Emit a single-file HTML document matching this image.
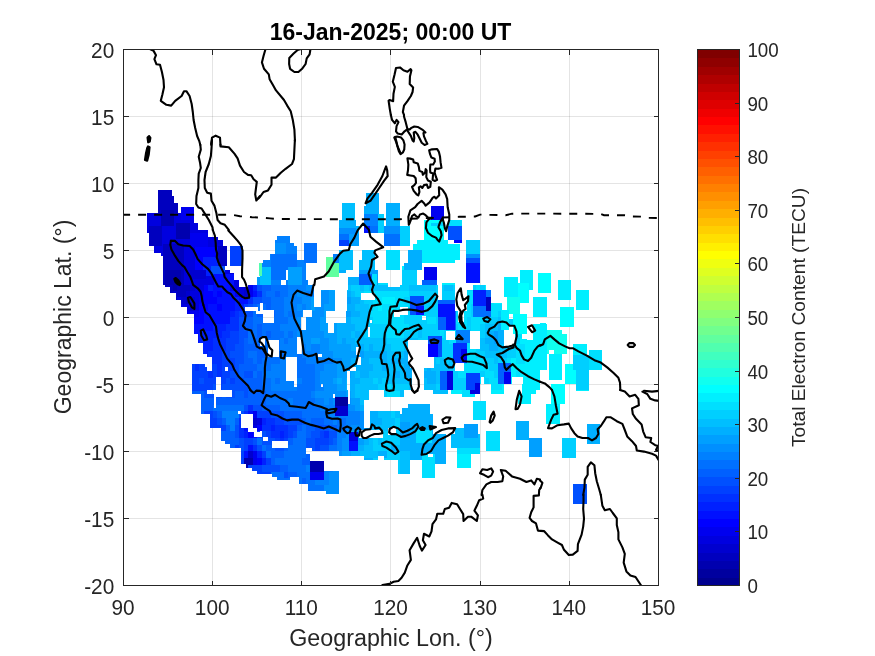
<!DOCTYPE html>
<html lang="en"><head><meta charset="utf-8"><title>16-Jan-2025; 00:00 UT</title>
<style>
html,body{margin:0;padding:0;background:#fff;}
body{width:875px;height:656px;overflow:hidden;}
svg{display:block;}
text{font-family:"Liberation Sans",Arial,Helvetica,sans-serif;fill:#262626;}
.tk{font-size:20.8px;}
.ctk{font-size:18.8px;}
.lab{font-size:23.3px;}
.clab{font-size:19.2px;}
.ttl{font-size:23px;font-weight:bold;fill:#000;}
.grid line{stroke:#262626;stroke-opacity:0.125;stroke-width:1;shape-rendering:crispEdges;}
.ax{stroke:#262626;stroke-width:1;fill:none;shape-rendering:crispEdges;}
.coast{fill:none;stroke:#000;stroke-width:2.1;stroke-linejoin:round;stroke-linecap:round;}
.eq{fill:none;stroke:#000;stroke-width:1.9;stroke-dasharray:8 8;stroke-dashoffset:1.4;}
</style></head><body>
<svg width="875" height="656" viewBox="0 0 875 656">
<rect x="0" y="0" width="875" height="656" fill="#fff"/>
<clipPath id="c"><rect x="123.5" y="49.5" width="535" height="536"/></clipPath>
<g class="grid">
<line x1="212.5" y1="49.5" x2="212.5" y2="585.5"/>
<line x1="301.5" y1="49.5" x2="301.5" y2="585.5"/>
<line x1="390.5" y1="49.5" x2="390.5" y2="585.5"/>
<line x1="480.5" y1="49.5" x2="480.5" y2="585.5"/>
<line x1="569.5" y1="49.5" x2="569.5" y2="585.5"/>
<line x1="123.5" y1="518.5" x2="658.5" y2="518.5"/>
<line x1="123.5" y1="451.5" x2="658.5" y2="451.5"/>
<line x1="123.5" y1="384.5" x2="658.5" y2="384.5"/>
<line x1="123.5" y1="317.5" x2="658.5" y2="317.5"/>
<line x1="123.5" y1="250.5" x2="658.5" y2="250.5"/>
<line x1="123.5" y1="183.5" x2="658.5" y2="183.5"/>
<line x1="123.5" y1="116.5" x2="658.5" y2="116.5"/>
</g>
<g shape-rendering="crispEdges">
<path fill="#00009f" d="M335 397h13v9h-13z"/>
<path fill="#0000af" d="M161 210h13v16h-13zM176 223h14v16h-14zM165 270h16v15h-16zM173 285h4v6h-4zM244 458h9v6h-9zM246 464h7v1h-7zM246 465h2v3h-2zM310 461h14v11h-14z"/>
<path fill="#0000bf" d="M158 190h14v6h-14zM158 196h16v7h-16zM158 203h20v7h-20zM174 210h4v3h-4zM158 210h3v3h-3zM149 226h13v20h-13zM218 246h9v20h-9zM163 244h21v26h-21zM181 270h3v15h-3zM163 270h2v15h-2zM165 285h8v2h-8zM177 285h13v6h-13zM170 287h3v6h-3zM177 291h9v6h-9zM176 297h1v3h-1zM186 297h4v7h-4zM486 297h5v14h-5z"/>
<path fill="#0000cf" d="M190 270h16v9h-16zM190 285h5v6h-5zM173 291h4v2h-4zM244 287h4v10h-4zM186 291h4v6h-4zM176 293h1v4h-1zM181 297h5v7h-5zM190 297h5v14h-5zM335 406h13v10h-13zM253 418h4v7h-4zM248 451h5v7h-5z"/>
<path fill="#0000df" d="M174 213h7v7h-7zM174 220h20v3h-20zM147 213h14v13h-14zM174 223h2v3h-2zM190 223h8v7h-8zM147 226h2v7h-2zM190 230h18v3h-18zM162 226h14v13h-14zM208 237h10v3h-10zM162 239h28v5h-28zM208 240h15v6h-15zM162 244h1v2h-1zM184 244h6v3h-6zM208 246h10v1h-10zM154 246h9v7h-9zM161 253h2v3h-2zM184 247h11v23h-11zM225 270h5v3h-5zM225 273h9v1h-9zM184 270h6v9h-6zM206 276h8v3h-8zM184 279h30v6h-30zM234 280h5v5h-5zM235 285h4v2h-4zM195 285h9v6h-9zM235 287h9v4h-9zM239 291h5v6h-5zM190 291h9v6h-9zM177 297h4v3h-4zM181 304h9v3h-9zM195 297h4v14h-4zM187 307h3v4h-3zM447 371h6v19h-6zM475 383h5v7h-5zM470 390h10v4h-10zM257 418h5v7h-5zM253 425h4v3h-4zM349 432h9v9h-9z"/>
<path fill="#0000ef" d="M431 206h13v14h-13zM181 207h13v13h-13zM190 233h18v14h-18zM424 267h13v13h-13zM230 285h5v6h-5zM248 285h5v12h-5zM235 291h4v6h-4zM199 291h5v13h-5zM187 311h12v3h-12zM194 314h5v3h-5zM461 349h6v11h-6zM504 372h7v12h-7zM253 411h4v7h-4zM253 451h4v14h-4zM310 472h14v8h-14z"/>
<path fill="#0000ff" d="M454 240h8v3h-8zM195 247h23v10h-23zM195 257h8v13h-8zM204 285h4v6h-4zM204 291h9v6h-9zM217 291h5v6h-5zM204 297h13v7h-13zM199 304h9v7h-9zM217 304h5v7h-5zM199 311h5v6h-5zM194 317h10v7h-10zM428 344h10v13h-10zM257 425h5v6h-5zM248 432h5v6h-5zM257 458h5v7h-5z"/>
<path fill="#0010ff" d="M364 226h6v7h-6zM466 263h14v20h-14zM214 274h20v11h-20zM213 285h17v6h-17zM213 291h4v6h-4zM222 291h13v6h-13zM253 291h4v6h-4zM239 297h9v7h-9zM217 297h18v7h-18zM208 304h9v7h-9zM222 304h13v7h-13zM416 306h8v9h-8zM438 304h17v13h-17zM204 311h26v13h-26zM446 317h9v13h-9zM194 324h19v7h-19zM194 331h5v3h-5zM198 334h1v9h-1zM248 411h5v3h-5zM244 428h4v3h-4zM253 432h1v5h-1zM253 437h4v1h-4zM349 441h9v10h-9zM248 445h5v6h-5zM244 451h4v7h-4z"/>
<path fill="#0020ff" d="M203 257h15v9h-15zM203 266h8v4h-8zM206 270h5v4h-5zM206 274h8v2h-8zM208 285h5v6h-5zM253 285h4v6h-4zM235 297h4v7h-4zM473 290h13v16h-13zM235 304h9v7h-9zM230 311h5v6h-5zM213 324h13v7h-13zM199 331h23v7h-23zM199 338h14v5h-14zM203 343h10v8h-10zM204 351h4v3h-4zM207 354h1v3h-1zM262 418h4v7h-4zM271 425h4v6h-4zM244 431h4v7h-4zM280 431h4v7h-4zM257 451h5v7h-5zM262 458h4v7h-4z"/>
<path fill="#0030ff" d="M257 291h5v6h-5zM248 297h5v7h-5zM235 311h4v6h-4zM230 317h9v7h-9zM226 324h13v7h-13zM222 331h8v7h-8zM453 343h14v6h-14zM213 338h13v13h-13zM203 351h1v3h-1zM208 351h14v6h-14zM453 349h8v11h-8zM453 360h14v3h-14zM212 357h10v7h-10zM195 364h4v7h-4zM217 364h5v13h-5zM208 371h5v7h-5zM221 377h1v1h-1zM248 405h5v6h-5zM244 411h4v3h-4zM266 418h9v7h-9zM239 418h2v10h-2zM275 425h13v6h-13zM262 425h9v6h-9zM239 428h5v10h-5zM284 431h4v7h-4zM324 431h5v7h-5zM271 431h9v7h-9zM280 438h4v3h-4zM253 445h4v6h-4z"/>
<path fill="#0040ff" d="M339 240h10v6h-10zM230 246h13v20h-13zM244 304h4v3h-4zM244 307h1v4h-1zM239 311h5v6h-5zM230 331h9v7h-9zM226 338h13v6h-13zM226 344h9v7h-9zM222 351h8v7h-8zM222 358h13v9h-13zM199 364h6v3h-6zM212 364h5v7h-5zM192 364h3v7h-3zM222 367h3v4h-3zM228 367h7v4h-7zM199 367h8v4h-8zM213 371h4v6h-4zM192 371h16v7h-16zM222 371h8v7h-8zM213 377h3v1h-3zM466 373h14v10h-14zM192 378h7v6h-7zM204 378h12v6h-12zM221 378h5v6h-5zM230 378h5v6h-5zM466 383h9v7h-9zM221 384h1v6h-1zM192 384h21v6h-21zM192 390h15v1h-15zM204 411h9v3h-9zM257 411h14v7h-14zM210 414h3v4h-3zM275 418h9v7h-9zM210 418h7v7h-7zM210 425h16v3h-16zM288 425h9v6h-9zM221 428h5v3h-5zM257 431h3v1h-3zM266 431h5v6h-5zM288 431h5v7h-5zM320 431h4v7h-4zM257 437h5v1h-5zM268 437h3v1h-3zM284 438h4v3h-4zM275 438h5v3h-5zM315 438h14v7h-14zM244 438h9v7h-9zM235 445h4v3h-4zM315 445h5v6h-5zM244 445h4v6h-4zM262 451h4v7h-4zM241 451h3v13h-3zM266 458h5v7h-5zM248 465h14v3h-14zM252 468h10v3h-10zM257 471h5v1h-5zM257 472h14v2h-14z"/>
<path fill="#0050ff" d="M448 226h14v14h-14zM466 258h14v5h-14zM211 266h14v8h-14zM257 285h5v6h-5zM253 297h9v6h-9zM253 303h7v1h-7zM410 296h14v10h-14zM248 304h5v3h-5zM410 306h6v9h-6zM244 311h9v6h-9zM239 317h5v14h-5zM239 331h9v7h-9zM428 336h14v8h-14zM239 338h5v6h-5zM235 344h9v7h-9zM438 344h4v13h-4zM230 351h14v7h-14zM235 358h9v6h-9zM235 364h4v7h-4zM244 371h9v7h-9zM230 371h9v7h-9zM199 378h5v6h-5zM235 378h9v6h-9zM226 378h4v6h-4zM213 384h3v6h-3zM222 384h26v6h-26zM232 390h16v1h-16zM204 391h3v3h-3zM232 391h3v6h-3zM244 391h4v7h-4zM204 394h10v4h-10zM216 397h6v1h-6zM226 397h9v1h-9zM244 405h4v6h-4zM253 405h9v6h-9zM241 411h3v3h-3zM271 411h13v7h-13zM213 411h4v7h-4zM239 414h2v4h-2zM217 418h5v7h-5zM284 418h18v7h-18zM315 425h14v6h-14zM262 431h4v6h-4zM235 425h4v13h-4zM311 431h9v7h-9zM293 431h4v7h-4zM329 431h8v7h-8zM262 437h1v4h-1zM268 438h7v3h-7zM253 438h4v7h-4zM329 438h4v7h-4zM262 441h10v4h-10zM239 438h5v10h-5zM306 438h9v10h-9zM320 445h9v6h-9zM257 445h5v6h-5zM275 448h9v3h-9zM312 448h3v3h-3zM241 448h3v3h-3zM262 465h18v7h-18zM284 472h4v6h-4zM573 484h14v20h-14z"/>
<path fill="#0060ff" d="M359 274h13v11h-13zM422 280h15v5h-15zM262 285h9v6h-9zM262 291h4v6h-4zM275 291h5v6h-5zM262 297h9v6h-9zM438 300h17v4h-17zM263 303h8v1h-8zM253 304h4v3h-4zM266 304h5v6h-5zM274 311h1v6h-1zM257 314h6v3h-6zM455 311h1v19h-1zM438 317h8v13h-8zM244 317h9v14h-9zM257 324h5v14h-5zM266 331h5v7h-5zM244 338h4v6h-4zM253 338h4v6h-4zM244 344h16v2h-16zM244 346h18v5h-18zM244 351h4v7h-4zM257 351h9v7h-9zM257 358h5v6h-5zM244 358h9v6h-9zM239 364h18v7h-18zM498 363h13v9h-13zM257 371h5v7h-5zM239 371h5v7h-5zM498 372h6v12h-6zM244 378h18v6h-18zM440 371h7v19h-7zM248 384h14v7h-14zM192 391h12v3h-12zM248 391h18v7h-18zM235 391h9v7h-9zM201 394h3v4h-3zM222 397h4v1h-4zM216 398h50v7h-50zM201 398h13v7h-13zM262 405h18v6h-18zM201 405h12v6h-12zM201 411h3v3h-3zM217 411h5v7h-5zM284 411h18v7h-18zM235 418h4v7h-4zM311 418h13v7h-13zM222 418h4v7h-4zM302 418h4v7h-4zM226 425h4v6h-4zM329 425h8v6h-8zM306 425h9v6h-9zM297 425h5v6h-5zM306 431h5v7h-5zM221 431h14v7h-14zM221 438h18v3h-18zM225 441h14v3h-14zM333 438h4v7h-4zM288 438h5v7h-5zM230 444h9v1h-9zM266 445h6v3h-6zM230 445h5v3h-5zM284 448h4v3h-4zM266 448h9v3h-9zM271 451h13v7h-13zM306 454h4v4h-4zM302 458h8v7h-8zM271 458h4v7h-4zM280 465h8v7h-8zM288 472h9v5h-9zM288 477h2v1h-2zM302 478h4v6h-4z"/>
<path fill="#0070ff" d="M370 226h8v7h-8zM339 234h10v6h-10zM384 234h16v12h-16zM304 243h13v20h-13zM271 254h26v13h-26zM271 267h17v3h-17zM271 270h15v10h-15zM271 285h17v6h-17zM486 290h5v7h-5zM280 291h8v6h-8zM266 291h9v6h-9zM257 304h3v3h-3zM271 297h13v13h-13zM263 304h3v6h-3zM473 306h13v5h-13zM258 307h2v4h-2zM274 310h10v1h-10zM253 311h3v3h-3zM473 311h18v6h-18zM288 311h5v6h-5zM275 311h9v6h-9zM253 314h4v3h-4zM274 317h14v6h-14zM253 317h10v6h-10zM253 323h35v1h-35zM262 324h18v7h-18zM253 324h4v7h-4zM262 331h4v7h-4zM248 331h9v7h-9zM288 331h5v7h-5zM271 331h13v7h-13zM265 338h15v2h-15zM257 338h3v6h-3zM284 338h4v6h-4zM248 338h5v6h-5zM265 340h3v6h-3zM279 340h1v11h-1zM262 346h6v5h-6zM279 351h5v6h-5zM266 351h2v6h-2zM248 351h9v7h-9zM297 354h5v4h-5zM266 357h18v1h-18zM297 358h9v6h-9zM262 358h18v6h-18zM253 358h4v6h-4zM257 364h14v7h-14zM297 364h18v14h-18zM262 371h4v7h-4zM253 371h4v7h-4zM275 378h5v6h-5zM302 378h13v6h-13zM293 381h1v3h-1zM262 378h9v13h-9zM297 384h18v7h-18zM266 391h45v7h-45zM293 398h22v7h-22zM266 398h22v7h-22zM216 405h28v3h-28zM213 405h1v3h-1zM280 405h40v6h-40zM213 408h31v3h-31zM302 411h27v7h-27zM306 418h5v7h-5zM324 418h9v7h-9zM337 418h9v13h-9zM302 425h4v6h-4zM297 431h9v7h-9zM257 438h5v7h-5zM293 438h13v7h-13zM262 445h4v6h-4zM329 445h8v6h-8zM288 445h18v6h-18zM266 451h5v7h-5zM284 451h22v7h-22zM275 458h27v7h-27zM288 465h18v7h-18zM271 472h13v2h-13zM297 472h13v5h-13zM272 474h12v3h-12zM299 477h11v1h-11zM277 477h7v1h-7zM277 478h13v2h-13zM306 478h4v2h-4zM299 478h3v6h-3zM306 480h9v4h-9zM308 484h7v1h-7zM308 485h16v6h-16z"/>
<path fill="#0080ff" d="M364 214h14v12h-14zM277 236h13v4h-13zM275 240h15v3h-15zM286 243h8v3h-8zM286 246h11v8h-11zM270 254h1v6h-1zM333 254h6v9h-6zM297 260h7v3h-7zM263 260h8v3h-8zM262 263h9v4h-9zM297 263h9v4h-9zM302 267h4v13h-4zM302 280h6v5h-6zM271 280h10v5h-10zM286 280h2v5h-2zM311 285h3v6h-3zM288 285h18v6h-18zM288 291h9v6h-9zM306 291h8v6h-8zM284 297h18v7h-18zM302 304h4v6h-4zM284 304h13v7h-13zM302 310h1v1h-1zM293 311h9v6h-9zM284 311h4v6h-4zM288 317h9v7h-9zM280 324h21v6h-21zM280 330h22v1h-22zM293 331h4v7h-4zM284 331h4v7h-4zM456 330h14v13h-14zM288 338h9v6h-9zM280 338h4v6h-4zM311 344h9v7h-9zM302 344h4v7h-4zM280 344h17v7h-17zM302 351h18v3h-18zM284 351h13v6h-13zM302 354h16v3h-16zM284 357h2v1h-2zM302 357h18v1h-18zM306 358h27v6h-27zM280 358h6v6h-6zM315 364h9v7h-9zM271 364h15v7h-15zM266 371h20v7h-20zM280 378h6v3h-6zM315 371h5v13h-5zM297 378h5v6h-5zM271 378h4v6h-4zM280 381h13v3h-13zM323 384h1v3h-1zM315 384h6v3h-6zM271 384h23v3h-23zM315 387h9v4h-9zM271 387h26v4h-26zM311 391h4v7h-4zM329 398h4v7h-4zM315 398h9v7h-9zM288 398h5v7h-5zM320 405h15v6h-15zM222 411h16v3h-16zM348 411h12v5h-12zM329 411h6v5h-6zM222 414h17v4h-17zM329 416h31v2h-31zM346 418h14v7h-14zM226 418h9v7h-9zM333 418h4v7h-4zM346 425h5v6h-5zM230 425h5v6h-5zM337 431h9v7h-9zM337 438h5v13h-5zM306 465h4v7h-4zM324 471h9v1h-9zM324 472h5v8h-5zM315 480h14v5h-14z"/>
<path fill="#008fff" d="M384 226h16v8h-16zM339 228h17v6h-17zM275 243h11v11h-11zM466 254h14v4h-14zM306 285h5v6h-5zM324 290h5v1h-5zM297 291h9v6h-9zM321 291h8v13h-8zM302 297h9v7h-9zM321 304h3v3h-3zM306 304h5v6h-5zM297 304h5v7h-5zM315 307h9v4h-9zM312 311h12v6h-12zM302 311h1v6h-1zM297 317h4v7h-4zM306 317h14v13h-14zM302 330h18v1h-18zM297 331h27v6h-27zM302 337h22v1h-22zM302 338h9v6h-9zM320 338h9v13h-9zM306 344h5v7h-5zM320 351h13v3h-13zM322 354h11v3h-11zM320 357h13v1h-13zM333 358h9v6h-9zM324 364h13v7h-13zM320 371h17v7h-17zM320 378h13v6h-13zM324 384h13v7h-13zM315 391h31v3h-31zM335 394h11v3h-11zM315 394h18v4h-18zM350 398h1v6h-1zM333 398h2v7h-2zM324 398h5v7h-5zM348 404h3v1h-3zM348 405h7v6h-7zM360 411h4v14h-4zM351 425h13v5h-13zM351 430h8v1h-8zM355 431h4v1h-4zM346 431h5v1h-5zM358 432h1v6h-1zM346 432h3v6h-3zM342 438h7v13h-7zM339 451h3v5h-3zM333 471h6v1h-6zM329 472h10v13h-10zM324 485h15v6h-15zM326 491h13v3h-13z"/>
<path fill="#009fff" d="M349 234h10v12h-10zM359 270h19v4h-19zM288 267h14v18h-14zM377 274h1v11h-1zM257 277h3v8h-3zM329 290h4v1h-4zM321 290h3v1h-3zM329 291h6v13h-6zM347 297h4v7h-4zM311 297h3v10h-3zM311 307h4v3h-4zM324 304h11v7h-11zM312 310h3v1h-3zM346 311h5v6h-5zM324 311h2v6h-2zM320 317h6v6h-6zM320 323h8v8h-8zM334 323h3v10h-3zM324 331h4v2h-4zM324 333h13v5h-13zM494 331h4v13h-4zM329 338h8v6h-8zM311 338h9v6h-9zM342 338h4v6h-4zM329 344h22v7h-22zM333 351h23v4h-23zM360 351h4v4h-4zM333 355h31v2h-31zM333 357h24v1h-24zM361 357h3v1h-3zM342 358h9v6h-9zM337 364h14v3h-14zM337 367h13v4h-13zM337 371h10v7h-10zM350 371h1v7h-1zM333 378h4v6h-4zM342 378h4v6h-4zM337 384h9v7h-9zM346 391h2v6h-2zM350 391h1v7h-1zM351 398h9v7h-9zM355 405h5v6h-5zM364 428h5v2h-5zM351 431h4v1h-4zM400 422h10v16h-10zM464 424h14v14h-14zM358 438h6v7h-6zM342 451h9v5h-9zM529 438h13v19h-13z"/>
<path fill="#00afff" d="M366 193h13v13h-13zM364 206h15v8h-15zM386 203h14v23h-14zM339 220h17v6h-17zM339 226h20v2h-20zM356 228h3v6h-3zM408 250h14v13h-14zM404 263h18v7h-18zM339 270h7v3h-7zM348 277h11v8h-11zM333 290h2v1h-2zM347 291h4v6h-4zM351 297h9v7h-9zM347 304h8v7h-8zM351 311h9v6h-9zM346 317h5v6h-5zM337 323h14v1h-14zM498 324h3v6h-3zM337 324h18v7h-18zM355 331h5v7h-5zM489 331h5v7h-5zM337 331h14v7h-14zM498 330h6v14h-6zM337 338h5v6h-5zM346 338h9v6h-9zM485 338h9v6h-9zM351 344h13v3h-13zM489 344h9v7h-9zM369 344h4v7h-4zM351 347h5v4h-5zM360 347h4v4h-4zM404 351h4v7h-4zM364 351h23v7h-23zM391 358h17v4h-17zM361 358h8v6h-8zM391 362h19v2h-19zM351 358h6v7h-6zM361 364h12v1h-12zM351 365h22v2h-22zM404 364h6v4h-6zM382 358h5v13h-5zM356 367h17v4h-17zM427 368h4v3h-4zM404 368h8v10h-8zM360 371h9v7h-9zM395 371h5v7h-5zM424 371h12v7h-12zM351 371h4v7h-4zM337 378h5v6h-5zM427 378h9v6h-9zM409 378h3v6h-3zM350 378h10v6h-10zM346 378h1v12h-1zM350 384h5v7h-5zM346 390h2v1h-2zM351 391h4v7h-4zM408 404h22v4h-22zM360 405h4v6h-4zM402 408h28v6h-28zM370 411h8v7h-8zM400 414h33v8h-33zM370 418h12v7h-12zM370 425h3v3h-3zM410 422h23v8h-23zM369 428h4v2h-4zM432 430h1v4h-1zM410 430h6v8h-6zM516 421h13v19h-13zM432 434h14v9h-14zM400 438h16v5h-16zM587 424h13v20h-13zM364 438h5v7h-5zM400 443h46v8h-46zM358 445h6v6h-6zM391 445h4v6h-4zM410 451h36v3h-36zM351 451h9v5h-9zM378 451h9v5h-9zM384 456h3v2h-3zM410 454h12v6h-12zM364 458h9v2h-9zM435 454h11v10h-11z"/>
<path fill="#00bfff" d="M342 203h13v17h-13zM362 250h13v10h-13zM339 250h14v20h-14zM359 260h16v10h-16zM262 267h9v9h-9zM260 276h11v9h-11zM369 285h19v2h-19zM348 285h3v5h-3zM360 285h4v6h-4zM409 285h27v6h-27zM444 285h9v6h-9zM369 287h31v4h-31zM347 290h4v1h-4zM351 291h4v6h-4zM360 297h1v3h-1zM360 300h4v4h-4zM355 304h14v7h-14zM360 311h9v6h-9zM351 317h18v7h-18zM498 317h3v7h-3zM509 324h2v1h-2zM355 324h14v3h-14zM485 324h13v7h-13zM355 327h13v4h-13zM418 324h4v14h-4zM485 331h4v7h-4zM360 331h4v7h-4zM351 331h4v7h-4zM404 338h14v2h-14zM480 338h5v6h-5zM355 338h32v6h-32zM498 344h6v2h-6zM404 340h4v11h-4zM480 344h9v7h-9zM373 344h18v7h-18zM364 344h5v7h-5zM498 346h13v5h-13zM387 351h17v7h-17zM485 351h22v7h-22zM436 357h4v1h-4zM434 358h2v6h-2zM369 358h13v6h-13zM387 358h4v6h-4zM440 358h4v6h-4zM494 358h4v6h-4zM449 358h4v6h-4zM434 364h19v4h-19zM387 364h17v7h-17zM373 364h9v7h-9zM431 368h22v3h-22zM424 368h3v3h-3zM355 371h5v7h-5zM369 371h26v7h-26zM400 371h4v7h-4zM436 371h4v13h-4zM360 378h13v6h-13zM424 378h3v6h-3zM387 378h22v6h-22zM378 378h4v6h-4zM424 384h12v6h-12zM409 384h3v6h-3zM355 384h23v6h-23zM433 390h15v4h-15zM400 390h4v7h-4zM355 390h14v8h-14zM360 398h9v2h-9zM360 400h4v5h-4zM378 411h13v7h-13zM395 411h5v7h-5zM382 418h13v7h-13zM373 425h18v3h-18zM373 428h15v2h-15zM383 430h5v1h-5zM455 428h9v6h-9zM478 434h2v4h-2zM451 434h13v4h-13zM369 438h4v7h-4zM378 438h4v7h-4zM451 438h29v10h-29zM364 445h9v6h-9zM395 445h5v6h-5zM360 451h18v5h-18zM364 456h14v2h-14zM400 451h10v23h-10z"/>
<path fill="#00cfff" d="M431 223h13v3h-13zM378 214h6v19h-6zM400 226h10v20h-10zM466 240h14v14h-14zM402 270h15v15h-15zM480 285h5v5h-5zM473 285h3v5h-3zM364 285h5v6h-5zM442 285h2v6h-2zM453 285h2v6h-2zM436 285h2v6h-2zM351 285h9v6h-9zM400 285h9v6h-9zM467 290h6v1h-6zM355 291h9v2h-9zM409 291h29v5h-29zM355 293h6v4h-6zM409 296h1v1h-1zM442 291h13v9h-13zM404 297h6v7h-6zM364 300h9v4h-9zM369 304h4v7h-4zM409 304h1v7h-1zM424 296h14v19h-14zM408 311h2v4h-2zM404 315h34v1h-34zM471 304h2v13h-2zM456 311h2v6h-2zM498 311h3v6h-3zM426 316h12v1h-12zM404 316h18v4h-18zM369 317h4v3h-4zM426 317h1v3h-1zM369 320h1v3h-1zM372 320h1v3h-1zM485 317h13v7h-13zM436 317h2v7h-2zM509 319h4v5h-4zM404 320h23v4h-23zM369 323h4v1h-4zM511 324h2v1h-2zM369 324h18v3h-18zM467 317h4v13h-4zM456 324h2v6h-2zM422 324h16v6h-16zM409 324h9v7h-9zM470 330h1v1h-1zM453 330h3v1h-3zM444 330h5v1h-5zM422 330h18v6h-18zM370 327h17v10h-17zM364 331h4v6h-4zM480 324h5v14h-5zM455 331h1v7h-1zM404 331h14v7h-14zM444 331h2v7h-2zM515 334h1v4h-1zM422 336h6v2h-6zM364 337h23v1h-23zM418 338h10v2h-10zM442 338h4v2h-4zM515 338h5v6h-5zM387 338h17v6h-17zM442 340h7v4h-7zM515 344h1v2h-1zM391 344h13v7h-13zM511 346h5v5h-5zM476 349h4v2h-4zM442 344h11v13h-11zM476 351h9v7h-9zM507 351h9v7h-9zM434 357h2v1h-2zM440 357h13v1h-13zM498 358h9v5h-9zM436 358h4v6h-4zM444 358h5v6h-5zM485 358h9v6h-9zM464 363h3v1h-3zM573 355h16v15h-16zM453 363h2v8h-2zM489 364h9v7h-9zM480 371h5v6h-5zM494 371h4v7h-4zM453 371h5v7h-5zM484 377h1v1h-1zM480 377h1v1h-1zM373 378h5v6h-5zM382 378h5v6h-5zM485 378h4v6h-4zM576 370h13v20h-13zM453 378h13v12h-13zM436 384h4v6h-4zM391 384h18v6h-18zM378 384h9v6h-9zM391 390h9v1h-9zM384 390h3v7h-3zM391 411h4v7h-4zM395 418h5v7h-5zM391 425h9v3h-9zM396 428h4v7h-4zM383 431h5v4h-5zM383 435h17v3h-17zM373 438h5v7h-5zM382 438h18v7h-18zM373 445h18v6h-18zM562 438h14v20h-14zM387 451h13v7h-13zM384 458h16v2h-16zM373 458h5v2h-5zM398 460h2v14h-2z"/>
<path fill="#00dfff" d="M448 220h14v6h-14zM386 250h14v20h-14zM372 274h5v11h-5zM378 283h10v2h-10zM476 285h4v5h-4zM364 291h45v2h-45zM375 293h34v4h-34zM375 297h7v3h-7zM467 291h6v13h-6zM395 297h9v7h-9zM373 300h9v4h-9zM491 303h3v1h-3zM395 304h14v3h-14zM491 304h11v6h-11zM382 304h9v7h-9zM467 304h4v7h-4zM373 304h5v7h-5zM395 307h5v4h-5zM408 307h1v4h-1zM491 310h10v1h-10zM464 311h7v6h-7zM391 311h3v6h-3zM369 311h18v6h-18zM491 311h7v6h-7zM400 315h4v2h-4zM456 317h2v5h-2zM464 317h3v5h-3zM373 317h31v7h-31zM427 317h9v7h-9zM471 317h14v7h-14zM456 322h11v2h-11zM458 324h9v6h-9zM471 324h9v7h-9zM387 324h22v7h-22zM449 330h4v1h-4zM440 330h4v6h-4zM387 331h17v7h-17zM516 334h6v4h-6zM442 336h2v2h-2zM455 338h1v2h-1zM449 340h7v3h-7zM449 343h4v1h-4zM467 343h3v6h-3zM467 349h9v9h-9zM507 358h4v5h-4zM516 344h9v20h-9zM467 358h18v6h-18zM589 350h13v20h-13zM464 364h25v7h-25zM458 371h22v2h-22zM516 371h4v6h-4zM485 371h9v7h-9zM458 373h8v5h-8zM484 378h1v6h-1zM480 378h1v6h-1zM489 378h9v6h-9zM491 384h11v6h-11zM387 384h4v7h-4zM462 390h8v4h-8zM387 391h13v6h-13zM462 394h13v3h-13zM473 401h13v19h-13zM416 430h16v13h-16zM486 431h14v20h-14zM457 448h23v6h-23zM433 454h2v3h-2zM422 454h6v3h-6zM422 457h13v21h-13z"/>
<path fill="#00efff" d="M417 240h31v4h-31zM413 244h47v6h-47zM422 250h38v10h-38zM422 260h33v3h-33zM402 266h2v4h-2zM520 270h13v13h-13zM442 283h13v2h-13zM529 283h4v7h-4zM485 285h1v5h-1zM504 277h14v20h-14zM558 280h13v20h-13zM382 297h13v7h-13zM494 303h8v1h-8zM576 290h13v20h-13zM391 304h4v7h-4zM378 304h4v7h-4zM533 297h14v20h-14zM387 311h4v6h-4zM540 323h6v1h-6zM501 310h8v20h-8zM520 338h2v1h-2zM533 324h14v16h-14zM520 339h7v1h-7zM520 340h27v4h-27zM573 344h14v11h-14zM525 344h22v20h-22zM511 358h5v6h-5zM511 364h36v6h-36zM511 370h29v1h-29zM511 371h5v6h-5zM520 371h20v6h-20zM549 354h13v26h-13zM523 377h17v7h-17zM511 377h1v7h-1zM502 384h2v6h-2zM522 384h18v6h-18zM576 390h13v1h-13zM522 390h14v4h-14zM491 390h13v4h-13zM451 390h11v4h-11zM518 394h13v10h-13zM546 404h14v20h-14zM457 454h14v14h-14z"/>
<path fill="#00ffff" d="M424 220h20v3h-20zM424 223h7v3h-7zM424 226h20v14h-20zM538 273h13v20h-13zM518 283h11v14h-11zM520 297h9v6h-9zM560 307h14v20h-14zM513 314h14v20h-14zM565 364h8v6h-8zM565 370h11v14h-11zM551 384h14v20h-14z"/>
<path fill="#10ffef" d="M507 297h13v13h-13zM509 310h11v4h-11zM547 330h15v4h-15zM547 334h20v16h-20zM554 350h13v4h-13zM547 350h2v4h-2z"/>
<path fill="#50ffaf" d="M259 263h3v13h-3z"/>
<path fill="#60ff9f" d="M326 257h7v6h-7zM326 263h13v14h-13z"/>
</g>
<g clip-path="url(#c)">
<path class="coast" d="M170.86 240.86 L174.86 240.86 L178.29 244.29 L182.86 245.43 L189.71 246 L193.14 249.43 L195.43 254 L197.71 259.14 L202.29 264.29 L208 268.86 L211.43 273.43 L213.71 278 L216 282.57 L218.29 286.57 L222.29 286.57 L224 288.86 L227.43 292.29 L230.86 294 L233.14 297.43 L236.57 300.86 L238.86 303.14 L240 304.97"/>
<path class="coast" d="M170.86 240.86 L170.29 244.86 L171.43 249.43 L174.29 254.57 L178.29 260.86 L182.29 265.43 L184.57 267.14 L187.43 272.29 L190.29 276.86 L192 281.43 L193.14 284.86 L197.71 288.29 L200.57 291.71 L201.71 296.29 L202.29 300.86 L203.43 304.97"/>
<path class="coast" d="M212.8 230 L214.86 235.71 L215.66 242.57 L216 249.43 L217.14 253.43 L216.8 257.43 L218.29 262 L221.71 268.86 L224 273.43 L224.57 276.86 L227.43 280.86 L230.86 284.86 L234.29 289.43 L238.86 294 L242.29 296.86 L245.14 298.23 L249.14 297.66 L249.14 295.14 L247.43 289.43 L245.71 283.71 L244 279.71 L242.06 277.09 L242.06 270 L242.51 258.57 L242.51 250.57 L241.14 245.43 L237.71 240.86 L233.14 235.71 L228.34 230.57"/>
<path class="coast" style="fill:#000" d="M174.29 278.91 L175.77 278 L178.29 280.29 L180.34 283.49 L179.66 285.09 L177.71 284.29 L175.43 282 Z"/>
<path class="coast" d="M314.4 284.96 L315.2 279.2 L324 276.48 L328.8 271.2 L333.6 262.4 L340 253.6 L343.2 250.72 L348.8 250.08 L350.4 244 L354.4 237.6 L357.6 230.4 L363.2 223.52 L368.8 229.6 L370.4 236.8 L376 241.6 L383.2 247.2 L375.2 250.4 L374.4 252.8 L377.6 256.8 L372 260 L371.2 266.4 L368.48 273.6 L370.4 279.2 L373.6 284.96"/>
<path class="coast" d="M294.88 140 L294.4 149.6 L293.92 159.2 L292 164 L285.6 168.8 L280.8 172.8 L276 177.6 L271.52 177.6 L271.52 184.8 L268 190.4 L263.52 192 L260 196.8 L258.4 198.4"/>
<path class="coast" d="M365.6 203.2 L367.52 198.4 L372 192.8 L377.6 184.8 L382.4 176 L384.8 169.6 L386.08 166.4 L387.2 170.4 L387.68 176 L384 180.8 L379.2 188 L374.4 195.2 L370.4 200.8 Z"/>
<path class="coast" d="M395.2 136.8 L397.6 146.4 L400 152"/>
<path class="coast" d="M265.6 48.8 L263.52 56 L261.92 62.4 L264 68.8 L268.8 74.4 L269.6 79.2 L272.8 84.8 L276 90.4 L284 100 L287.2 105.6 L290.72 111.2 L292.8 120 L294.4 129.6 L294.88 139.2 L294.88 140.8"/>
<path class="coast" d="M301.92 48.8 L297.6 49.92 L293.6 53.6 L289.28 57.92 L289.12 64 L290.08 68.8 L294.4 72 L298.4 72 L302.4 68.48 L305.6 64 L306.72 58.4 L309.6 54.4 L310.4 49.6 L308 48.8 Z"/>
<path class="coast" d="M408.8 224.8 L408.32 216.8 L410.4 210.4 L415.2 207.2 L417.6 204 L421.6 200.8 L424 203.2 L425.6 205.6 L429.6 202.4 L432.8 197.6 L434.4 196.8 L436 198.4 L439.2 195.2 L438.88 187.2 L442.4 189.6 L445.6 194.4 L447.2 199.2 L447.68 207.2 L449.28 214.4 L449.28 220 L447.2 226.4 L446.08 231.2 L444.8 228 L444 223.2 L442.4 218.4 L440 222.4 L438.4 227.2 L440.8 231.2 L441.6 235.2 L439.2 241.6 L437.6 240 L436 237.6 L432 236 L428 232.8 L425.92 228 L426.4 222.4 L428.8 219.2 L432 217.92 L428 217.6 L425.6 215.2 L423.2 213.6 L420 214.4 L418.4 217.6 L416 216 L414.4 214.4 L412 216 L411.2 219.2 L409.6 223.2 Z"/>
<path class="coast" d="M203.36 305 L205.6 312.2 L209.6 315.4 L212.8 321 L216 326.6 L216.8 333 L218.4 339.4 L220 344.2 L223.2 350.6 L227.2 358.6 L232 364.2 L234.4 369.8 L238.4 376.2 L243.2 381 L248 385.8 L250.4 389.96"/>
<path class="coast" d="M240 305 L243.2 309.8 L245.6 315.4 L244.8 321 L242.88 325.8 L245.6 329 L251.2 330.6 L252.8 334.6 L254.4 339.4 L256.8 346.6 L260 348.2"/>
<path class="coast" d="M188 297.8 L190.4 297 L194.4 303.4 L194.4 309 L192 307.4 L188.8 301.8 Z"/>
<path class="coast" d="M200.8 330.6 L203.2 329.32 L206.4 336.2 L207.2 339.4 L204 340.2 L201.28 335.4 Z"/>
<path class="coast" d="M313.6 285 L311.2 295.4 L303.2 293 L297.12 290.6 L293.6 294.6 L291.52 302.6 L292.8 310.6 L294.4 318.6 L297.6 325 L300.8 331.4 L301.92 339.4 L302.88 345.8 L304 353.8 L308 356.2 L312.8 355.4 L316.32 353.8 L317.6 362.6 L324 361 L328.8 358.6 L332.8 361 L336.8 362.6 L340.8 361.8 L343.2 366.6 L344 370.6 L349.6 368.2 L356 363.4 L357.6 357 L360 347.4 L357.6 341.8 L362.4 334.6 L366.4 328.2 L368 320.2 L369.6 312.2 L372 305.8 L380.8 304.2 L377.6 298.6 L372.8 293 L372 289.8 L373.6 285"/>
<path class="coast" d="M280.8 351.4 L285.6 352.2 L284 358.6 L280.8 357.8 Z"/>
<path class="coast" d="M460.8 288.2 L457.6 293 L456.32 299.4 L457.28 305.8 L460.8 311.4 L459.2 317 L460 321.8 L463.2 326.6 L465.28 328.2 L461.6 321 L461.28 315.4 L463.2 310.6 L465.6 309 L464.8 305 L468 301 L468.48 296.2 L465.6 298.6 L463.2 300.2 L461.6 294.6 Z"/>
<path class="coast" d="M456 338.6 L458.88 334.92 L462.72 339.08 Z"/>
<path class="coast" d="M430.4 340.2 L434.4 339.4 L438.4 341 L437.6 342.92 L431.2 342.92 Z"/>
<path class="coast" d="M444.8 360.2 L448 358.12 L452.8 359.4 L454.4 363.4 L452.8 367.4 L448.8 367.4 L445.6 364.2 Z"/>
<path class="coast" d="M461.6 357.8 L464 355.08 L470.4 353.8 L475.2 353.8 L480 356.2 L484 357.8 L486.4 363.4 L486.88 368.2 L483.2 365 L478.4 363.4 L472 361.8 L467.2 361.48 L463.2 361 Z"/>
<path class="coast" d="M483.2 318.6 L487.2 317 L490.4 319.4 L488 322.12 L484.48 321 Z"/>
<path class="coast" d="M514.88 345 L508.8 346.6 L502.4 347.4 L498.4 345 L496 340.2 L492.8 337 L488.8 334.6 L487.68 333 L489.6 329 L494.4 326.6 L497.6 322.6 L502.4 321.48 L506.4 322.6 L509.6 325.8 L514.4 325.8 L516.48 331.4 L516.8 336.2 L515.52 341 L514.88 345 L516.8 348.2 L520 350.6 L521.6 355.4 L524 359.4 L528 361 L531.2 357.8 L534.4 350.6 L537.6 346.6 L540 345"/>
<path class="coast" d="M513.28 344.52 L513.6 347.4 L508.8 349 L502.4 353 L496.8 354.6 L500.8 357 L504 361.8 L504.8 367.4 L506.4 369.8 L509.6 366.6 L512.8 364.2 L516.8 368.2 L521.6 372.2 L528 376.2 L534.4 379.4 L540 381.8"/>
<path class="coast" d="M528 326.92 L532 325.32 L535.2 330.6 L532 332.2 Z"/>
<path class="coast" d="M540 345.8 L543.2 344.2 L544.8 339.4 L550.4 335.88 L554.4 339.4 L559.2 343.4 L565.6 346.6 L569.6 348.2 L572.8 348.2 L578.4 351.4 L586.4 355.4 L594.4 360.2 L600.8 362.6 L607.2 367.4 L613.6 373 L618.4 377.8 L620 382.6 L620.32 389.96"/>
<path class="coast" d="M627.68 345 L629.28 343.08 L633.12 343.08 L635.04 345 L633.12 346.92 L629.28 346.92 Z"/>
<path class="coast" d="M540 381.8 L544.8 383.4 L549.6 387.4 L552 389.96"/>
<path class="coast" d="M259.94 348.23 L262 348 L264.29 351.43 L266 354.29 L266.57 356.57 L265.43 362.29 L264.86 368 L264.86 374.86 L264.29 381.71 L263.71 388.57 L263.14 393.14 L260.29 390.86 L256.29 390.63 L254 393.14 L251.71 391.43 L250.34 389.94"/>
<path class="coast" d="M259.94 338.86 L262.57 337.14 L266 337.14 L267.71 341.71 L269.43 347.43 L272.29 350.29 L271.71 356.57 L268.86 355.43 L266 353.14 L264.29 346.86 L261.43 342.86 L259.49 341.71 Z"/>
<path class="coast" d="M261.6 405.2 L264 399.6 L266.4 395.12 L271.2 396.72 L275.2 394.8 L280 398 L285.6 400.4 L288.8 403.6 L289.6 406 L296.8 406.8 L305.6 407.92 L307.2 405.2 L308.8 402 L313.6 404.72 L320.8 406.8 L327.2 409.2 L326.4 414 L327.2 417.2 L332 418.8 L337.6 418.48 L340.48 419.6 L340.8 425.2 L340 431.6 L335.2 429.2 L328.8 426.48 L324 428.4 L317.6 426.48 L311.2 424.88 L304.8 422.8 L298.4 419.6 L292 419.6 L287.2 420.4 L282.4 418.48 L277.6 415.6 L271.2 414 L269.6 410.8 L265.6 408.4 Z"/>
<path class="coast" d="M326.4 410.48 L331.2 409.2 L336.48 408.88 L334.4 412.08 L328.8 413.2 L326.4 412.4 Z"/>
<path class="coast" d="M343.2 428.4 L347.2 426.48 L351.2 428.4 L349.6 432.4 L347.2 433.2 L344.48 430.8 Z"/>
<path class="coast" d="M355.68 430 L358.4 427.6 L360.48 430 L358.88 435.6 L356 435.6 L355.2 432.88 Z"/>
<path class="coast" d="M361.6 432.4 L365.6 429.68 L370.4 429.2 L372 424.4 L374.4 426 L375.2 428.4 L379.2 427.6 L381.92 430.8 L382.4 433.2 L378.4 434 L374.4 434 L370.4 435.6 L366.4 438 L363.2 438 L361.6 435.6 Z"/>
<path class="coast" d="M381.92 443.6 L386.4 441.52 L391.2 442.8 L396 447.6 L398.4 451.6 L395.2 454 L391.2 450.8 L386.4 447.6 L382.4 446 Z"/>
<path class="coast" d="M389.14 432.43 L389.71 429 L393.71 426.71 L398.29 428.43 L402.86 432.43 L407.43 430.71 L412 428.43 L415.43 425 L417.14 423.86 L418.29 426.71 L415.43 431.29 L410.29 434.14 L405.71 435.86 L401.14 437 L396 434.14 L391.43 434.14 Z"/>
<path class="coast" style="fill:#000" d="M420 428.4 L422.4 427.12 L424.8 428.4 L424 430 L421.12 430 Z"/>
<path class="coast" d="M429.6 426 L436 427.12 L430.4 429.52 Z"/>
<path class="coast" d="M442.4 419.6 L446.4 417.2 L450.4 417.52 L448 422.8 L443.52 423.12 Z"/>
<path class="coast" d="M421.6 454.8 L422.4 449.2 L424 444.4 L428 440.4 L432.8 438 L436 433.2 L441.6 430 L448 428.4 L455.2 428.08 L452.8 432.4 L448 435.6 L443.2 438 L438.4 440.4 L434.4 445.2 L431.2 450.8 L426.4 454 Z"/>
<path class="coast" d="M489.6 422 L491.2 415.6 L493.6 411.6 L494.72 415.6 L492.8 420.4 L490.4 422.8 Z"/>
<path class="coast" d="M515.52 409.2 L516.8 399.6 L519.2 390.8 L521.6 396.4 L520 404.4 L517.6 408.88 Z"/>
<path class="coast" d="M480 473.2 L482.4 469.2 L487.2 470 L491.2 468.4 L493.12 471.6 L491.2 475.6 L488 477.2 L484 474.8 Z"/>
<path class="coast" d="M481.6 494.96 L482.4 490 L486.4 484.4 L491.2 482 L497.6 482 L502.4 481.2 L503.2 476.4 L500.8 470 L505.6 470.8 L512 476.4 L520 478.8 L526.4 482 L531.2 480.4 L534.4 484.4 L536.8 478.8 L540 479.6"/>
<path class="coast" d="M412 390 L414.4 392.4 L417.6 390.8"/>
<path class="coast" d="M552 390 L554.4 396.4 L556 406 L557.6 413.68 L553.6 414.8 L551.2 419.6 L548.8 426 L548 428.08 L552 428.4 L557.6 425.2 L564 424.4 L568.8 423.6 L571.2 428.4 L574.4 433.2 L577.6 436.4 L582.4 438 L588 438 L592 440.4 L596 438 L598.4 434 L597.6 429.2 L600.8 426 L604 421.2 L606.4 417.2 L610.4 417.2 L616.8 421.2 L622.4 423.92 L624.8 430 L627.2 436.4 L632 441.2 L636 446 L636.8 450.48 L644 451.6 L652 453.68 L656 455.6 L658.4 459.6"/>
<path class="coast" d="M620 390 L624.8 391.6 L629.6 396.4 L635.2 394.8 L638.4 398.8 L638.88 405.2 L632 408.4 L632.8 414 L636 418.8 L641.6 424.4 L643.2 431.6 L645.6 437.2 L651.2 438 L650.4 442 L655.2 445.2 L659.2 446"/>
<path class="coast" d="M659.2 450.8 L656 450 L657.6 446.8"/>
<path class="coast" d="M642.4 391.6 L647.2 394 L650.4 398.8 L655.2 400.4 L659.2 400.88"/>
<path class="coast" d="M644 390.8 L652 391.6 L659.2 390.8"/>
<path class="coast" d="M583.2 494.96 L584.48 487.6 L584.8 479.6 L587.68 474.8 L587.68 466.8 L590.88 462.32 L594.4 465.2 L595.2 473.2 L596.8 481.2 L599.2 489.2 L600.8 494.96"/>
<path class="coast" d="M540 480.4 L542.4 482.8 L540.8 487.6 L540 488.4"/>
<path class="coast" d="M382.4 585 L389.6 583.88 L393.6 581.8 L398.4 581 L401.6 577.8 L404.8 572.68 L407.2 565.8 L410.88 559.88 L409.6 550.28 L413.6 543.4 L417.12 537.8 L419.68 545.8 L421.92 550.6 L425.6 545 L422.88 540.2 L424 533.8 L429.28 536.52 L431.52 531.4 L432.48 524.2 L436 519.4 L437.28 513.8 L443.2 513.8 L444.8 509 L449.12 507.72 L451.68 502.92 L457.12 504.2 L460 509 L463.2 514.12 L463.52 521 L468 516.68 L471.2 516.68 L476.8 521 L477.92 515.4 L474.4 510.6 L476.8 505.8 L479.2 500.2 L483.2 498.6 L482.4 494.6"/>
<path class="coast" d="M540.48 488.2 L539.2 489.8 L538.88 495.4 L533.6 495.88 L533.6 507.4 L531.2 512.2 L529.6 517.8 L532 521 L536 523.4 L537.92 530.6 L544 531.08 L548 535.4 L552 539.4 L557.6 542.6 L561.92 545 L564 549.8 L568.8 555.08 L572.8 554.6 L577.6 550.92 L577.92 544.2 L581.6 534.6 L583.2 526.6 L584 518.6 L583.2 509 L583.52 501 L583.52 494.92"/>
<path class="coast" d="M600.8 494.92 L602.4 505.8 L604.8 510.28 L609.92 509 L612.8 513 L616.8 518.28 L616.8 525 L618.4 532.2 L618.4 539.4 L622.4 547.4 L624.8 553.8 L623.68 562.6 L626.4 571.4 L630.4 575.4 L635.52 577 L640.8 585 L642.4 587.4"/>
<path class="coast" d="M150.4 49.28 L153.6 50.88 L156 55.2 L154.4 59.2 L156.48 64.32 L160 64.8 L161.92 72 L163.52 80 L164 87.2 L162.4 94.4 L160.8 100.8 L166.4 104.8 L171.2 105.6 L175.2 100.8 L181.6 96 L184 91.2 L186.4 91.2 L189.6 96 L191.68 104 L192.8 112 L193.6 120 L195.2 128 L197.12 136 L199.2 140.8 L200.32 144.96"/>
<path class="coast" style="fill:#000" d="M147.52 137.6 L149.12 136 L150.4 137.92 L149.76 141.6 L148.16 142.4 Z"/>
<path class="coast" d="M200.32 144.8 L200.8 149.6 L198.72 156.8 L200 162.4 L200.8 168 L198.72 173.6 L198.4 180 L198.4 188 L196.48 196 L196.16 204 L198.4 207.52 L201.6 208.48 L204.8 213.6 L208.8 220 L212.48 227.2 L212.8 229.92"/>
<path class="coast" d="M211.2 144 L212 140 L211.52 148 L210.88 156 L208.8 164 L205.6 172 L204.48 180 L204.8 188 L207.2 192.8 L210.88 193.6 L211.52 200.8 L214.4 205.6 L216.48 213.6 L217.6 220 L220.48 223.2 L224.8 224.8 L228.8 229.92"/>
<path class="coast" d="M220.48 144.48 L220.48 146.4 L228.8 147.2 L234.4 153.6 L237.6 158.4 L240 165.6 L244 172 L248 174.88 L251.2 175.2 L253.6 179.2 L256.8 181.92 L256 188 L255.2 194.4 L256.32 200.48 L260 196"/>
<path class="coast" style="fill:#000" d="M148 146.4 L149.6 147.2 L148.8 154.4 L147.2 160.8 L144.96 160 L145.92 153.6 L147.2 148 Z"/>
<path class="coast" d="M211.2 144.96 L212 137.6 L215.68 135.68 L220 137.6 L220.48 144.96"/>
<path class="coast" d="M390.86 114.97 L389.71 108.57 L388.57 100.57 L389.71 100 L393.14 101.14 L393.49 93.71 L394.86 86.86 L392.8 81.71 L394.63 74.29 L396 68 L400 67.43 L403.43 70.29 L407.43 71.77 L410.63 69.14 L411.43 70.29 L409.94 76.57 L409.71 84 L413.14 87.43 L412.57 92 L410.86 96 L407.43 101.14 L404 105.71 L402.86 112 L404 114.97"/>
<path class="coast" d="M390.86 114.94 L392 119.86 L394.86 123.29 L396.57 119.86 L398.51 122.14 L396.57 126.14 L396 131.29 L397.71 133.57 L401.71 134.49 L404.57 131.29 L406.86 129.57 L408.57 132.43 L410.86 135.86 L412.57 140.43 L413.71 141.57 L414.29 138.14 L413.71 132.43 L415.43 131.86 L417.71 134.71 L420 139.29 L421.71 142.71 L424.57 145 L427.43 143.86 L425.71 140.43 L424 136.43 L423.43 133 L425.49 132.43 L422.29 129.57 L417.71 126.94 L414.29 126.49 L411.43 127.86 L409.71 129.57 L407.43 129 L405.71 122.14 L404 116.43 L404 114.94"/>
<path class="coast" d="M394.29 137.57 L397.14 136.43 L401.14 137.57 L403.43 140.43 L404.57 144.43 L404.23 149.57 L402.86 152.43 L400.57 154.14 L398.86 151.29 L397.71 147.29 L396 141.57 Z"/>
<path class="coast" d="M429.14 150.14 L432 149.34 L437.14 149 L438.86 151.86 L440 156.43 L440.57 162.14 L441.49 167.86 L438.29 168.77 L435.43 168.43 L434.63 172.43 L436 177 L437.14 179.86 L434.86 181 L432.57 179.86 L433.14 173.57 L430.29 172.43 L430.06 169 L430.29 164.43 L433.14 164.43 L434.86 161.57 L434.63 158.71 L431.43 157.57 L430.06 154.14 Z"/>
<path class="coast" d="M407.43 158.29 L408.34 164.57 L408 170.29 L407.2 174.86 L410.29 175.43 L413.71 176 L415.66 178.29 L416 182.86 L414.29 185.14 L412 186.86 L413.71 190.86 L416.57 194.29 L418.29 195.43 L419.43 192 L418.86 187.43 L420.57 186.29 L422.29 188 L424 185.14 L426.86 184.57 L428 188 L430.29 186.86 L430.86 181.71 L428 180.57 L426.29 177.14 L426.63 170.29 L425.71 169.14 L425.14 172.57 L422.86 174.86 L422.29 172 L419.43 170.86 L418.86 166.86 L417.71 163.43 L413.71 162.29 L413.14 159.43 L410.29 158.63 Z"/>
<path class="coast" d="M399.14 299.29 L397.43 303.29 L396.86 306.14 L390.57 306.71 L389.43 311.29 L389.43 318.14 L388.86 324.43 L386.57 327.86 L384.86 333 L384.29 338.71 L384.29 344.43 L383.14 350.14 L380.86 354.71 L380.63 358.14 L381.43 359.94 L382 363.71 L386.57 364.29 L387.71 369.43 L388.29 375.14 L387.14 380.86 L386 385.43 L386.34 390 L389.43 390.91 L393.43 390.23 L394 386.57 L393.43 380.86 L394 375.14 L394.57 369.43 L394 364.86 L392.86 359.71 L393.2 356.29 L395.71 352.86 L399.71 352.51 L400.06 356.86 L399.14 360.86 L400.29 365.43 L403.14 369.43 L404.86 372.86 L405.43 378 L408.86 380.29 L410.57 379.14 L410.57 384.29 L412.29 390 L414.57 392.86 L417.43 390 L418.91 386.57 L418.57 380.29 L415.71 374 L412.86 368.29 L409.43 364.29 L408.86 362.57 L412.29 358.57 L410.57 355.86 L408.29 351.29 L406 346.71 L403.71 342.14 L407.14 339.86 L410.57 336.43 L414 331.86 L417.43 329.57 L421.43 328.43 L418.57 324.77 L414 326.14 L409.43 328.43 L404.86 329 L402 331.86 L399.71 334.71 L396.29 334.14 L395.71 330.14 L392.86 327.86 L390.23 325 L390.57 319.29 L391.71 314.14 L393.43 310.71 L398 311.06 L402.57 309.91 L409.43 309.57 L416.29 310.37 L422 311.86 L427.71 310.14 L432.29 306.14 L435.14 301.57 L437.43 296.43 L435.14 293.57 L432.29 297 L428.86 301 L423.14 303.86 L416.29 305 L409.43 302.14 L403.71 300.43 L399.14 299.29 Z"/>
<path class="eq" d="M123.5 214.8 L232 214.8 L240 216.2 L252 217.2 L262 217.6 L270 218.4 L276 219 L330 219.2 L400 219.2 L430 218 L459.2 216.8 L475.2 216.5 L480 214.6 L489.6 214.9 L505.6 215.2 L512 213.7 L540 213.6 L600.8 213.9 L604 215.2 L624.8 215.3 L632.8 216.5 L641 216.6 L648.8 217.9 L658.5 218"/>
</g>
<rect class="ax" x="123.5" y="49.5" width="535" height="536"/>
<g class="ax">
<line x1="123.5" y1="585.5" x2="123.5" y2="580.5"/>
<line x1="123.5" y1="49.5" x2="123.5" y2="54.5"/>
<line x1="212.5" y1="585.5" x2="212.5" y2="580.5"/>
<line x1="212.5" y1="49.5" x2="212.5" y2="54.5"/>
<line x1="301.5" y1="585.5" x2="301.5" y2="580.5"/>
<line x1="301.5" y1="49.5" x2="301.5" y2="54.5"/>
<line x1="390.5" y1="585.5" x2="390.5" y2="580.5"/>
<line x1="390.5" y1="49.5" x2="390.5" y2="54.5"/>
<line x1="480.5" y1="585.5" x2="480.5" y2="580.5"/>
<line x1="480.5" y1="49.5" x2="480.5" y2="54.5"/>
<line x1="569.5" y1="585.5" x2="569.5" y2="580.5"/>
<line x1="569.5" y1="49.5" x2="569.5" y2="54.5"/>
<line x1="658.5" y1="585.5" x2="658.5" y2="580.5"/>
<line x1="658.5" y1="49.5" x2="658.5" y2="54.5"/>
<line x1="123.5" y1="585.5" x2="128.5" y2="585.5"/>
<line x1="658.5" y1="585.5" x2="653.5" y2="585.5"/>
<line x1="123.5" y1="518.5" x2="128.5" y2="518.5"/>
<line x1="658.5" y1="518.5" x2="653.5" y2="518.5"/>
<line x1="123.5" y1="451.5" x2="128.5" y2="451.5"/>
<line x1="658.5" y1="451.5" x2="653.5" y2="451.5"/>
<line x1="123.5" y1="384.5" x2="128.5" y2="384.5"/>
<line x1="658.5" y1="384.5" x2="653.5" y2="384.5"/>
<line x1="123.5" y1="317.5" x2="128.5" y2="317.5"/>
<line x1="658.5" y1="317.5" x2="653.5" y2="317.5"/>
<line x1="123.5" y1="250.5" x2="128.5" y2="250.5"/>
<line x1="658.5" y1="250.5" x2="653.5" y2="250.5"/>
<line x1="123.5" y1="183.5" x2="128.5" y2="183.5"/>
<line x1="658.5" y1="183.5" x2="653.5" y2="183.5"/>
<line x1="123.5" y1="116.5" x2="128.5" y2="116.5"/>
<line x1="658.5" y1="116.5" x2="653.5" y2="116.5"/>
<line x1="123.5" y1="49.5" x2="128.5" y2="49.5"/>
<line x1="658.5" y1="49.5" x2="653.5" y2="49.5"/>
</g>
<text class="tk" transform="translate(123,615.3) scale(1,1.02)" text-anchor="middle">90</text>
<text class="tk" transform="translate(212.167,615.3) scale(1,1.02)" text-anchor="middle">100</text>
<text class="tk" transform="translate(301.333,615.3) scale(1,1.02)" text-anchor="middle">110</text>
<text class="tk" transform="translate(390.5,615.3) scale(1,1.02)" text-anchor="middle">120</text>
<text class="tk" transform="translate(479.667,615.3) scale(1,1.02)" text-anchor="middle">130</text>
<text class="tk" transform="translate(568.833,615.3) scale(1,1.02)" text-anchor="middle">140</text>
<text class="tk" transform="translate(658,615.3) scale(1,1.02)" text-anchor="middle">150</text>
<text class="tk" transform="translate(114.2,593.6) scale(1,1.02)" text-anchor="end">-20</text>
<text class="tk" transform="translate(114.2,526.6) scale(1,1.02)" text-anchor="end">-15</text>
<text class="tk" transform="translate(114.2,459.6) scale(1,1.02)" text-anchor="end">-10</text>
<text class="tk" transform="translate(114.2,392.6) scale(1,1.02)" text-anchor="end">-5</text>
<text class="tk" transform="translate(114.2,325.6) scale(1,1.02)" text-anchor="end">0</text>
<text class="tk" transform="translate(114.2,258.6) scale(1,1.02)" text-anchor="end">5</text>
<text class="tk" transform="translate(114.2,191.6) scale(1,1.02)" text-anchor="end">10</text>
<text class="tk" transform="translate(114.2,124.6) scale(1,1.02)" text-anchor="end">15</text>
<text class="tk" transform="translate(114.2,57.6) scale(1,1.02)" text-anchor="end">20</text>
<text class="lab" x="391" y="645.7" text-anchor="middle">Geographic Lon. (°)</text>
<text class="lab" style="font-size:23px" transform="translate(71,317) rotate(-90)" text-anchor="middle">Geographic Lat. (°)</text>
<text class="ttl" x="390.5" y="40.2" text-anchor="middle">16-Jan-2025; 00:00 UT</text>
<g shape-rendering="crispEdges">
<rect x="697.5" y="577.125" width="42" height="8.875" fill="#00008f"/>
<rect x="697.5" y="568.750" width="42" height="8.875" fill="#00009f"/>
<rect x="697.5" y="560.375" width="42" height="8.875" fill="#0000af"/>
<rect x="697.5" y="552.000" width="42" height="8.875" fill="#0000bf"/>
<rect x="697.5" y="543.625" width="42" height="8.875" fill="#0000cf"/>
<rect x="697.5" y="535.250" width="42" height="8.875" fill="#0000df"/>
<rect x="697.5" y="526.875" width="42" height="8.875" fill="#0000ef"/>
<rect x="697.5" y="518.500" width="42" height="8.875" fill="#0000ff"/>
<rect x="697.5" y="510.125" width="42" height="8.875" fill="#0010ff"/>
<rect x="697.5" y="501.750" width="42" height="8.875" fill="#0020ff"/>
<rect x="697.5" y="493.375" width="42" height="8.875" fill="#0030ff"/>
<rect x="697.5" y="485.000" width="42" height="8.875" fill="#0040ff"/>
<rect x="697.5" y="476.625" width="42" height="8.875" fill="#0050ff"/>
<rect x="697.5" y="468.250" width="42" height="8.875" fill="#0060ff"/>
<rect x="697.5" y="459.875" width="42" height="8.875" fill="#0070ff"/>
<rect x="697.5" y="451.500" width="42" height="8.875" fill="#0080ff"/>
<rect x="697.5" y="443.125" width="42" height="8.875" fill="#008fff"/>
<rect x="697.5" y="434.750" width="42" height="8.875" fill="#009fff"/>
<rect x="697.5" y="426.375" width="42" height="8.875" fill="#00afff"/>
<rect x="697.5" y="418.000" width="42" height="8.875" fill="#00bfff"/>
<rect x="697.5" y="409.625" width="42" height="8.875" fill="#00cfff"/>
<rect x="697.5" y="401.250" width="42" height="8.875" fill="#00dfff"/>
<rect x="697.5" y="392.875" width="42" height="8.875" fill="#00efff"/>
<rect x="697.5" y="384.500" width="42" height="8.875" fill="#00ffff"/>
<rect x="697.5" y="376.125" width="42" height="8.875" fill="#10ffef"/>
<rect x="697.5" y="367.750" width="42" height="8.875" fill="#20ffdf"/>
<rect x="697.5" y="359.375" width="42" height="8.875" fill="#30ffcf"/>
<rect x="697.5" y="351.000" width="42" height="8.875" fill="#40ffbf"/>
<rect x="697.5" y="342.625" width="42" height="8.875" fill="#50ffaf"/>
<rect x="697.5" y="334.250" width="42" height="8.875" fill="#60ff9f"/>
<rect x="697.5" y="325.875" width="42" height="8.875" fill="#70ff8f"/>
<rect x="697.5" y="317.500" width="42" height="8.875" fill="#80ff80"/>
<rect x="697.5" y="309.125" width="42" height="8.875" fill="#8fff70"/>
<rect x="697.5" y="300.750" width="42" height="8.875" fill="#9fff60"/>
<rect x="697.5" y="292.375" width="42" height="8.875" fill="#afff50"/>
<rect x="697.5" y="284.000" width="42" height="8.875" fill="#bfff40"/>
<rect x="697.5" y="275.625" width="42" height="8.875" fill="#cfff30"/>
<rect x="697.5" y="267.250" width="42" height="8.875" fill="#dfff20"/>
<rect x="697.5" y="258.875" width="42" height="8.875" fill="#efff10"/>
<rect x="697.5" y="250.500" width="42" height="8.875" fill="#ffff00"/>
<rect x="697.5" y="242.125" width="42" height="8.875" fill="#ffef00"/>
<rect x="697.5" y="233.750" width="42" height="8.875" fill="#ffdf00"/>
<rect x="697.5" y="225.375" width="42" height="8.875" fill="#ffcf00"/>
<rect x="697.5" y="217.000" width="42" height="8.875" fill="#ffbf00"/>
<rect x="697.5" y="208.625" width="42" height="8.875" fill="#ffaf00"/>
<rect x="697.5" y="200.250" width="42" height="8.875" fill="#ff9f00"/>
<rect x="697.5" y="191.875" width="42" height="8.875" fill="#ff8f00"/>
<rect x="697.5" y="183.500" width="42" height="8.875" fill="#ff8000"/>
<rect x="697.5" y="175.125" width="42" height="8.875" fill="#ff7000"/>
<rect x="697.5" y="166.750" width="42" height="8.875" fill="#ff6000"/>
<rect x="697.5" y="158.375" width="42" height="8.875" fill="#ff5000"/>
<rect x="697.5" y="150.000" width="42" height="8.875" fill="#ff4000"/>
<rect x="697.5" y="141.625" width="42" height="8.875" fill="#ff3000"/>
<rect x="697.5" y="133.250" width="42" height="8.875" fill="#ff2000"/>
<rect x="697.5" y="124.875" width="42" height="8.875" fill="#ff1000"/>
<rect x="697.5" y="116.500" width="42" height="8.875" fill="#ff0000"/>
<rect x="697.5" y="108.125" width="42" height="8.875" fill="#ef0000"/>
<rect x="697.5" y="99.750" width="42" height="8.875" fill="#df0000"/>
<rect x="697.5" y="91.375" width="42" height="8.875" fill="#cf0000"/>
<rect x="697.5" y="83.000" width="42" height="8.875" fill="#bf0000"/>
<rect x="697.5" y="74.625" width="42" height="8.875" fill="#af0000"/>
<rect x="697.5" y="66.250" width="42" height="8.875" fill="#9f0000"/>
<rect x="697.5" y="57.875" width="42" height="8.875" fill="#8f0000"/>
<rect x="697.5" y="49.500" width="42" height="8.875" fill="#800000"/>
</g>
<rect class="ax" x="697.5" y="49.5" width="42" height="536"/>
<g class="ax">
<line x1="739.5" y1="531.5" x2="734.5" y2="531.5"/>
<line x1="739.5" y1="478.5" x2="734.5" y2="478.5"/>
<line x1="739.5" y1="424.5" x2="734.5" y2="424.5"/>
<line x1="739.5" y1="371.5" x2="734.5" y2="371.5"/>
<line x1="739.5" y1="317.5" x2="734.5" y2="317.5"/>
<line x1="739.5" y1="263.5" x2="734.5" y2="263.5"/>
<line x1="739.5" y1="210.5" x2="734.5" y2="210.5"/>
<line x1="739.5" y1="156.5" x2="734.5" y2="156.5"/>
<line x1="739.5" y1="103.5" x2="734.5" y2="103.5"/>
</g>
<text class="ctk" transform="translate(747.4,593) scale(1,1.045)">0</text>
<text class="ctk" transform="translate(747.4,539.4) scale(1,1.045)">10</text>
<text class="ctk" transform="translate(747.4,485.8) scale(1,1.045)">20</text>
<text class="ctk" transform="translate(747.4,432.2) scale(1,1.045)">30</text>
<text class="ctk" transform="translate(747.4,378.6) scale(1,1.045)">40</text>
<text class="ctk" transform="translate(747.4,325) scale(1,1.045)">50</text>
<text class="ctk" transform="translate(747.4,271.4) scale(1,1.045)">60</text>
<text class="ctk" transform="translate(747.4,217.8) scale(1,1.045)">70</text>
<text class="ctk" transform="translate(747.4,164.2) scale(1,1.045)">80</text>
<text class="ctk" transform="translate(747.4,110.6) scale(1,1.045)">90</text>
<text class="ctk" transform="translate(747.4,57) scale(1,1.045)">100</text>
<text class="clab" transform="translate(804.7,317.5) rotate(-90)" text-anchor="middle">Total Electron Content (TECU)</text>
</svg></body></html>
